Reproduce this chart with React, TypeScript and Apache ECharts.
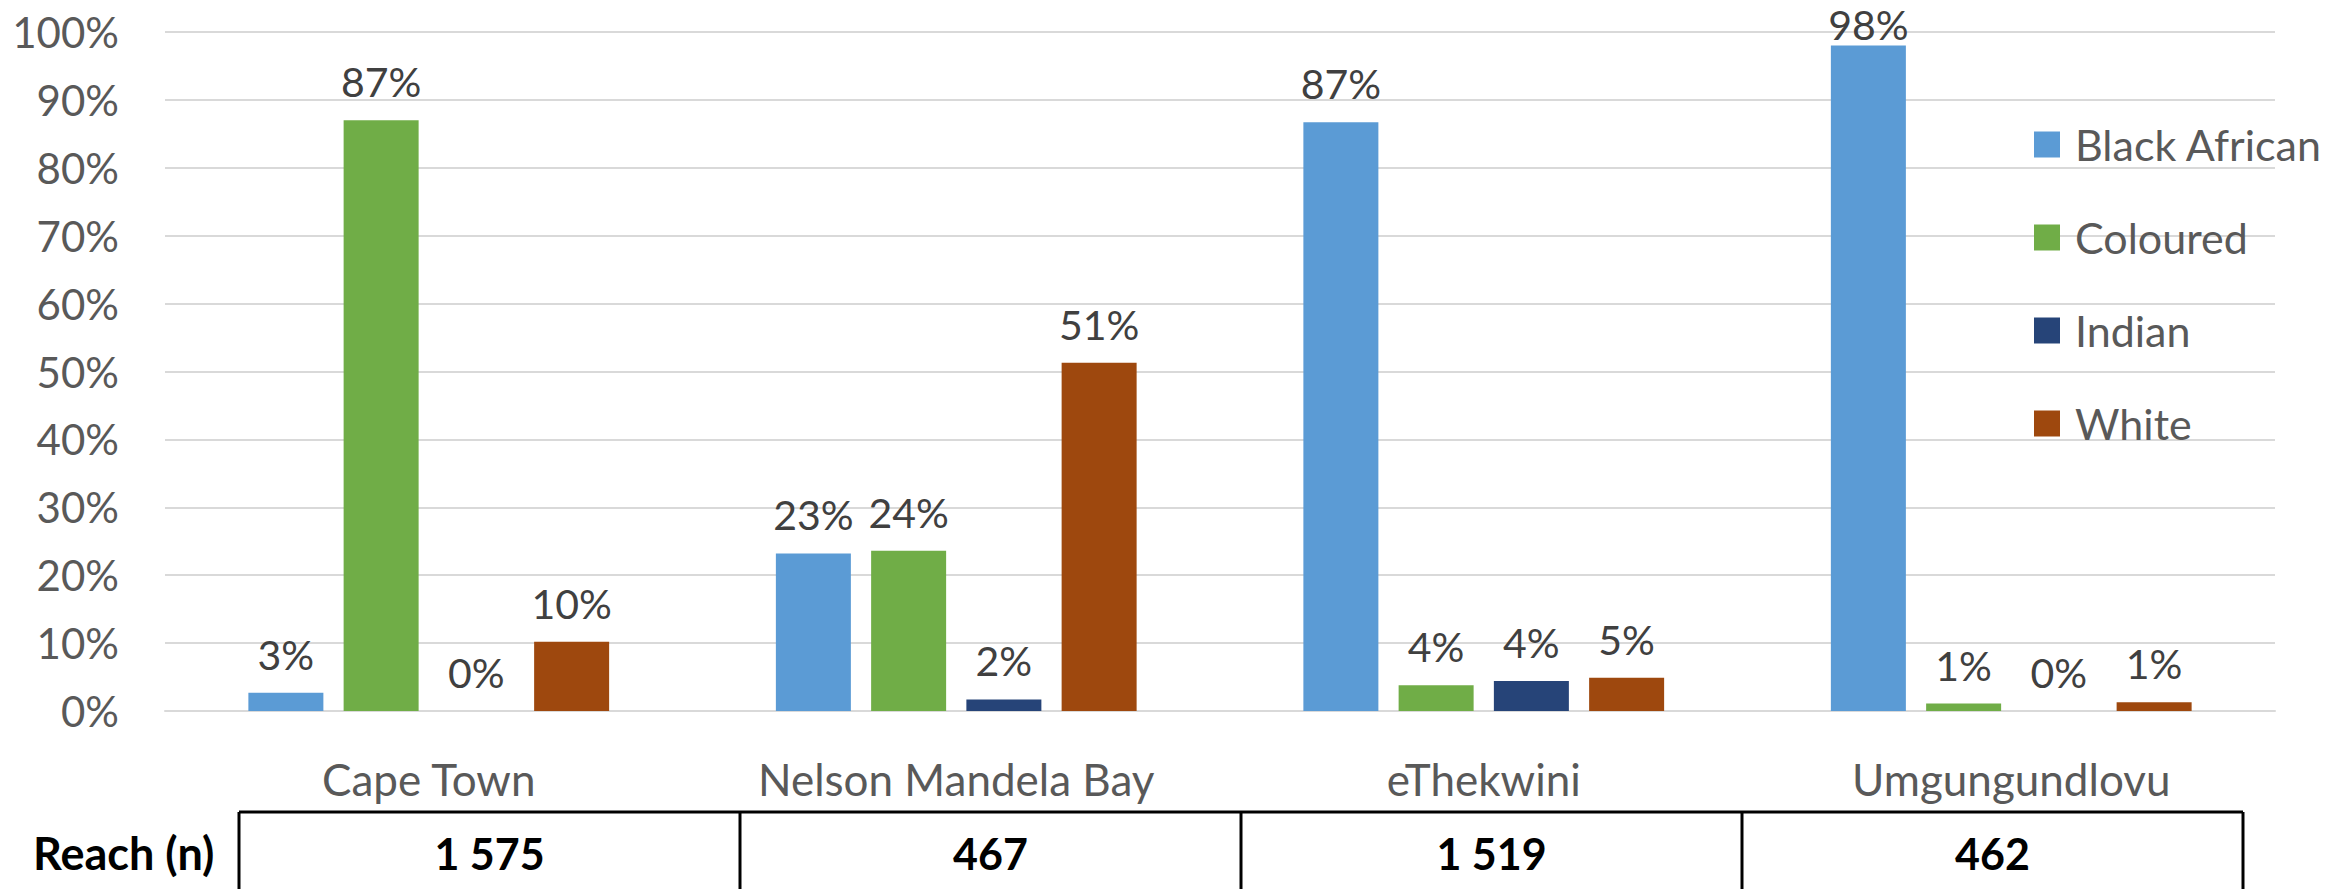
import React, { useEffect, useRef } from "react";
import * as echarts from "echarts";

const categories = ["Cape Town", "Nelson Mandela Bay", "eThekwini", "Umgungundlovu"];
const blackAfrican = [2.7, 23.2, 86.7, 98.0];
const coloured = [87.0, 23.6, 3.8, 1.1];
const indian = [0.0, 1.7, 4.4, 0.0];
const white = [10.2, 51.3, 4.9, 1.3];
const reachLabel = "Reach (n)";
const reach = ["1 575", "467", "1 519", "462"];
const yTicks = [0, 10, 20, 30, 40, 50, 60, 70, 80, 90, 100];

const FONT = "Lato, 'Noto Sans', sans-serif";
const GRID_TOP = 32;
const GRID_BOTTOM_Y = 711;
const LABEL_FS = 41;
const LABEL_DIST = 18;

export default function App() {
  const ref = useRef<HTMLDivElement>(null);
  useEffect(() => {
    if (!ref.current) return;
    const chart = echarts.init(ref.current, undefined, { renderer: "svg" });
    const yMax = yTicks[yTicks.length - 1];
    const labelCfg = {
      show: true,
      position: "top",
      distance: LABEL_DIST,
      formatter: (p: any) => Math.round(p.value) + "%",
      color: "#404040",
      fontSize: LABEL_FS,
      lineHeight: LABEL_FS,
      fontFamily: FONT,
    };
    // keep labels inside the chart's top edge (as the original does)
    const toData = (vals: number[]) =>
      vals.map((v) => {
        const barTop = GRID_TOP + ((yMax - v) / yMax) * (GRID_BOTTOM_Y - GRID_TOP);
        const room = barTop - LABEL_FS - 4;
        if (room < LABEL_DIST) {
          return { value: v, label: { distance: Math.max(0, room) } };
        }
        return v;
      });
    const mk = (name: string, data: number[], color: string) => ({
      name,
      type: "bar",
      data: toData(data),
      barWidth: 75,
      barGap: "27%",
      itemStyle: { color },
      label: labelCfg,
    });
    // table geometry (decoration)
    const tLeft = 239;
    const tRight = 2243;
    const tTop = 812;
    const cellW = (tRight - tLeft) / reach.length;
    const tableEls: any[] = [
      { type: "line", shape: { x1: tLeft, y1: tTop, x2: tRight, y2: tTop }, style: { stroke: "#000", lineWidth: 3 } },
      {
        type: "text",
        style: { text: reachLabel, x: 33, y: 853, fill: "#000", font: `bold 45px ${FONT}`, textVerticalAlign: "middle", textAlign: "left" },
      },
    ];
    for (let i = 0; i <= reach.length; i++) {
      const x = tLeft + i * cellW;
      tableEls.push({ type: "line", shape: { x1: x, y1: tTop, x2: x, y2: 889 }, style: { stroke: "#000", lineWidth: 3 } });
    }
    reach.forEach((r, i) => {
      tableEls.push({
        type: "text",
        style: {
          text: r,
          x: tLeft + (i + 0.5) * cellW,
          y: 853,
          fill: "#000",
          font: `bold 43px ${FONT}`,
          textAlign: "center",
          textVerticalAlign: "middle",
        },
      });
    });

    chart.setOption({
      animation: false,
      backgroundColor: "#ffffff",
      grid: { left: 165, right: 71, top: GRID_TOP, bottom: 889 - GRID_BOTTOM_Y, containLabel: false },
      legend: {
        orient: "vertical",
        left: 2029,
        top: 118,
        itemWidth: 26,
        itemHeight: 26,
        itemGap: 50,
        icon: "rect",
        textStyle: { color: "#595959", fontSize: 43, fontFamily: FONT, padding: [0, 0, 0, 10] },
        data: ["Black African", "Coloured", "Indian", "White"],
      },
      xAxis: {
        type: "category",
        data: categories,
        axisLine: { show: true, lineStyle: { color: "#d9d9d9", width: 2 } },
        axisTick: { show: false },
        axisLabel: { color: "#595959", fontSize: 44, fontFamily: FONT, margin: 46 },
      },
      yAxis: {
        type: "value",
        min: yTicks[0],
        max: yMax,
        interval: 10,
        axisLine: { show: false },
        axisTick: { show: false },
        axisLabel: { color: "#595959", fontSize: 42, fontFamily: FONT, margin: 46, formatter: "{value}%" },
        splitLine: { lineStyle: { color: "#d9d9d9", width: 2 } },
      },
      graphic: tableEls,
      series: [
        mk("Black African", blackAfrican, "#5B9BD5"),
        mk("Coloured", coloured, "#70AD47"),
        mk("Indian", indian, "#264478"),
        mk("White", white, "#9E480E"),
      ],
    });
    return () => chart.dispose();
  }, []);
  return (
    <div
      ref={ref}
      style={{ position: "fixed", left: 0, top: 0, width: 2346, height: 889, background: "#fff" }}
    />
  );
}
